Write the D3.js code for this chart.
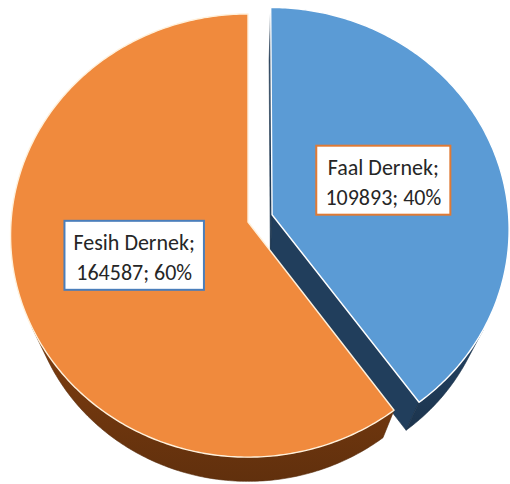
<!DOCTYPE html>
<html>
<head>
<meta charset="utf-8">
<script src="https://cdn.jsdelivr.net/npm/d3@7"></script>
<style>
  html, body { margin: 0; padding: 0; background: #fff; }
  svg { display: block; }
</style>
</head>
<body>
<svg id="chart" width="510" height="484"></svg>
<script>
// Dernek counts by status
const categories = ["Faal Dernek", "Fesih Dernek"];
const values = [109893, 164587];

// Styling per slice
const topColors = ["#5B9BD5", "#F08A3D"];
const sideColors = ["#213E5C", "#74390F"];
const highlightColors = ["#FFFFFF", "#FFF1DC"];
const labelBorders = ["#E07A34", "#4A7EBB"];
const explode = [0.107, 0];

// Perspective camera looking down at a unit-radius disc
const view = {
  cx: 248, cy: 222, f: 1410, dist: 5.95,
  elev: 68.7 * Math.PI / 180, depth: 0.5
};
const sa = Math.sin(view.elev), ca = Math.cos(view.elev);
const camPos = [0, -view.dist * ca, view.dist * sa];

function project(X, Yb, Z) {
  const v = Yb * sa + Z * ca;
  const w = view.dist + Yb * ca - Z * sa;
  return [view.cx + view.f * X / w, view.cy - view.f * v / w];
}

const svg = d3.select("#chart");
const total = d3.sum(values);
const arcs = d3.pie().sort(null).value(d => d)(values);

const line = d3.line();

const slices = arcs.map((a, i) => {
  const mid = (a.startAngle + a.endAngle) / 2;
  const e = explode[i];
  const ox = e * Math.sin(mid), oy = e * Math.cos(mid);
  const pt = (r, t, z) => project(r * Math.sin(t) + ox, r * Math.cos(t) + oy, z);
  return { a, i, mid, ox, oy, pt };
});

// draw farther slices first
slices.sort((s1, s2) => (s2.oy + Math.cos(s2.mid)) - (s1.oy + Math.cos(s1.mid)));

function signedArea(pts) {
  let s = 0;
  for (let k = 0; k < pts.length; k++) {
    const p = pts[k], q = pts[(k + 1) % pts.length];
    s += p[0] * q[1] - q[0] * p[1];
  }
  return s;
}

slices.forEach(s => {
  const { a, i, pt, ox, oy } = s;
  const h = -view.depth;
  const g = svg.append("g");
  const steps = Math.max(2, Math.ceil((a.endAngle - a.startAngle) / (Math.PI / 240)));
  const thetas = d3.range(steps + 1).map(k => a.startAngle + (a.endAngle - a.startAngle) * k / steps);

  // radial side walls (back-facing ones are culled)
  const A = pt(0, 0, 0), D = pt(0, 0, h);
  const wall0 = [A, D, pt(1, a.startAngle, h), pt(1, a.startAngle, 0)];
  const wall1 = [A, pt(1, a.endAngle, 0), pt(1, a.endAngle, h), D];
  [wall0, wall1].forEach(w => {
    if (signedArea(w) > 0) {
      g.append("path")
        .attr("d", line(w) + "Z")
        .attr("fill", sideColors[i])
        .attr("stroke", d3.color(sideColors[i]).darker(0.6))
        .attr("stroke-width", 0.6);
    }
  });

  // outer rim, only where it faces the camera
  const visible = thetas.filter(t => {
    const px = Math.sin(t) + ox, py = Math.cos(t) + oy;
    return (camPos[0] - px) * Math.sin(t) + (camPos[1] - py) * Math.cos(t) > 0;
  });
  if (visible.length > 1) {
    const rimPts = visible.map(t => pt(1, t, 0))
      .concat(visible.slice().reverse().map(t => pt(1, t, h)));
    const gid = "rim" + i;
    const grad = svg.append("defs").append("linearGradient")
      .attr("id", gid).attr("x1", "0").attr("y1", "0").attr("x2", "0").attr("y2", "1");
    const base = d3.color(sideColors[i]);
    grad.append("stop").attr("offset", "0%").attr("stop-color", base.brighter(0.25));
    grad.append("stop").attr("offset", "100%").attr("stop-color", base.darker(0.5));
    g.append("path")
      .attr("d", line(rimPts) + "Z")
      .attr("fill", `url(#${gid})`)
      .attr("stroke", base.darker(0.8))
      .attr("stroke-width", 0.6);
  }

  // top face
  const topPts = [A].concat(thetas.map(t => pt(1, t, 0)));
  g.append("path")
    .attr("d", line(topPts) + "Z")
    .attr("fill", topColors[i])
    .attr("stroke", highlightColors[i])
    .attr("stroke-width", 1.4)
    .attr("stroke-linejoin", "round");
});

// data labels
slices.forEach(s => {
  const { a, i, pt, mid } = s;
  const [lx, ly] = pt(0.5, mid, 0);
  const pct = Math.round(a.value / total * 100);
  const lines = [`${categories[i]};`, `${a.value}; ${pct}%`];
  const g = svg.append("g").attr("transform", `translate(${lx},${ly})`);
  const rect = g.append("rect");
  const txt = g.append("text")
    .attr("text-anchor", "middle")
    .attr("font-family", "Carlito, Calibri, Lato, sans-serif")
    .attr("font-size", 22)
    .attr("fill", "#262626");
  lines.forEach((l, k) => {
    txt.append("tspan").attr("x", 0).attr("y", -6 + k * 30).text(l);
  });
  const bb = txt.node().getBBox();
  const bw = bb.width + 18, bh = 69;
  rect.attr("x", -bw / 2).attr("y", -bh / 2 - 1)
    .attr("width", bw).attr("height", bh)
    .attr("fill", "#fff")
    .attr("stroke", labelBorders[i])
    .attr("stroke-width", 2);
});
</script>
</body>
</html>
